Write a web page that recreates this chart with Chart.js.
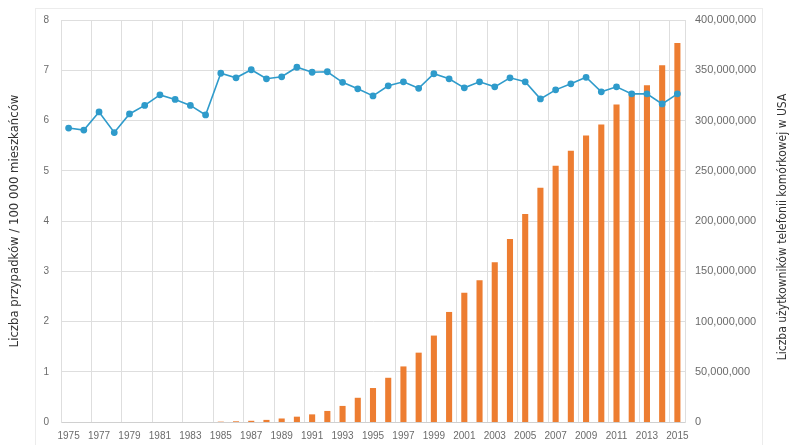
<!DOCTYPE html>
<html>
<head>
<meta charset="utf-8">
<script src="https://cdn.jsdelivr.net/npm/chart.js@4/dist/chart.umd.min.js"></script>
<style>
  html, body { margin: 0; padding: 0; background: #fff; }
  #wrap { width: 790px; height: 445px; position: relative; }
</style>
</head>
<body>
<div id="wrap"><canvas id="chart"></canvas></div>
<script>
// years on the x axis
const years = [
  "1975", "1976", "1977", "1978", "1979", "1980", "1981", "1982", "1983", "1984",
  "1985", "1986", "1987", "1988", "1989", "1990", "1991", "1992", "1993", "1994",
  "1995", "1996", "1997", "1998", "1999", "2000", "2001", "2002", "2003", "2004",
  "2005", "2006", "2007", "2008", "2009", "2010", "2011", "2012", "2013", "2014",
  "2015"
];
// cases per 100 000 inhabitants (left axis)
const caseRate = [
  5.85, 5.81, 6.17, 5.76, 6.13, 6.30, 6.51, 6.42, 6.30, 6.11,
  6.94, 6.85, 7.01, 6.83, 6.87, 7.06, 6.96, 6.97, 6.76, 6.63,
  6.49, 6.69, 6.77, 6.64, 6.93, 6.83, 6.65, 6.77, 6.67, 6.85,
  6.77, 6.43, 6.61, 6.73, 6.86, 6.57, 6.67, 6.53, 6.53, 6.33,
  6.53
];
// mobile phone users in the USA (right axis)
const mobileUsers = [
  0, 0, 0, 0, 0, 0, 0, 0, 0, 0,
  340000, 700000, 1200000, 2100000, 3500000, 5300000, 7600000, 11000000, 16000000, 24100000,
  33800000, 44000000, 55300000, 69000000, 86000000, 109500000, 128500000, 141000000, 159000000, 182000000,
  207000000, 233000000, 255000000, 270000000, 285000000, 296000000, 316000000, 326000000, 335000000, 355000000,
  377000000
];
// left scale ticks
const rateMax = 8;
const rateStep = 1;
// right scale ticks
const usersMax = 400000000;
const usersStep = 50000000;

const leftTitle = "Liczba przypadków / 100 000 mieszkańców";
const rightTitle = "Liczba użytkowników telefonii komórkowej w USA";

const gridColor = "#dedede";
const tickColor = "#6b6b6b";
const titleFont = "'Liberation Sans Narrow', 'DejaVu Sans Condensed', sans-serif";

// light outer frame + right axis title (drawn bottom-to-top like the left one)
const decorations = {
  id: "decorations",
  beforeDraw(chart) {
    const ctx = chart.ctx;
    ctx.save();
    ctx.fillStyle = "#fff";
    ctx.fillRect(0, 0, chart.width, chart.height);
    ctx.strokeStyle = "#ececec";
    ctx.lineWidth = 1;
    ctx.strokeRect(35.5, 8.5, 727, 445);
    ctx.restore();
  },
  afterDraw(chart) {
    const ctx = chart.ctx;
    const area = chart.chartArea;
    ctx.save();
    ctx.translate(783, (area.top + area.bottom) / 2 + 6);
    ctx.rotate(-Math.PI / 2);
    ctx.font = "12px " + titleFont;
    ctx.fillStyle = "#333";
    ctx.textAlign = "center";
    ctx.textBaseline = "middle";
    ctx.fillText(rightTitle, 0, 0);
    ctx.restore();
  }
};

new Chart(document.getElementById("chart"), {
  type: "bar",
  plugins: [decorations],
  data: {
    labels: years,
    datasets: [
      {
        type: "line",
        data: caseRate,
        yAxisID: "y",
        borderColor: "#2f9bcb",
        backgroundColor: "#2f9bcb",
        borderWidth: 1.6,
        pointRadius: 2.6,
        pointHoverRadius: 2.6,
        tension: 0
      },
      {
        type: "bar",
        data: mobileUsers,
        yAxisID: "y1",
        backgroundColor: "#ed7d31",
        categoryPercentage: 1,
        barPercentage: 0.4
      }
    ]
  },
  options: {
    responsive: true,
    maintainAspectRatio: false,
    animation: false,
    layout: { padding: { top: 20, left: 0, right: 0, bottom: 0 } },
    plugins: {
      legend: { display: false },
      tooltip: { enabled: false }
    },
    scales: {
      x: {
        grid: {
          offset: true,
          drawTicks: false,
          // only every second year gets a vertical line
          color: (c) => (c.index % 2 === 0 ? gridColor : "rgba(0,0,0,0)")
        },
        border: { color: "#d0d0d0" },
        ticks: {
          autoSkip: false,
          maxRotation: 0,
          padding: 8,
          color: tickColor,
          font: { family: "'Liberation Sans', sans-serif", size: 10 },
          callback: (v, i) => (i % 2 === 0 ? years[i] : "")
        },
        afterFit: (s) => { s.height = 23; }
      },
      y: {
        position: "left",
        min: 0,
        max: rateMax,
        grid: { color: gridColor, drawTicks: false },
        border: { color: gridColor },
        ticks: {
          stepSize: rateStep,
          padding: 12,
          color: tickColor,
          font: { family: "'Liberation Sans', sans-serif", size: 10 }
        },
        title: {
          display: true,
          text: leftTitle,
          color: "#333",
          font: { family: titleFont, size: 13 },
          padding: { top: 7, bottom: 0 }
        },
        afterFit: (s) => { s.width = 61; }
      },
      y1: {
        position: "right",
        min: 0,
        max: usersMax,
        grid: { display: false, drawTicks: false },
        border: { color: gridColor },
        ticks: {
          stepSize: usersStep,
          padding: 10,
          color: tickColor,
          font: { family: "'Liberation Sans', sans-serif", size: 11 },
          callback: (v) => v.toLocaleString("en-US")
        },
        afterFit: (s) => { s.width = 105; }
      }
    }
  }
});
</script>
</body>
</html>
